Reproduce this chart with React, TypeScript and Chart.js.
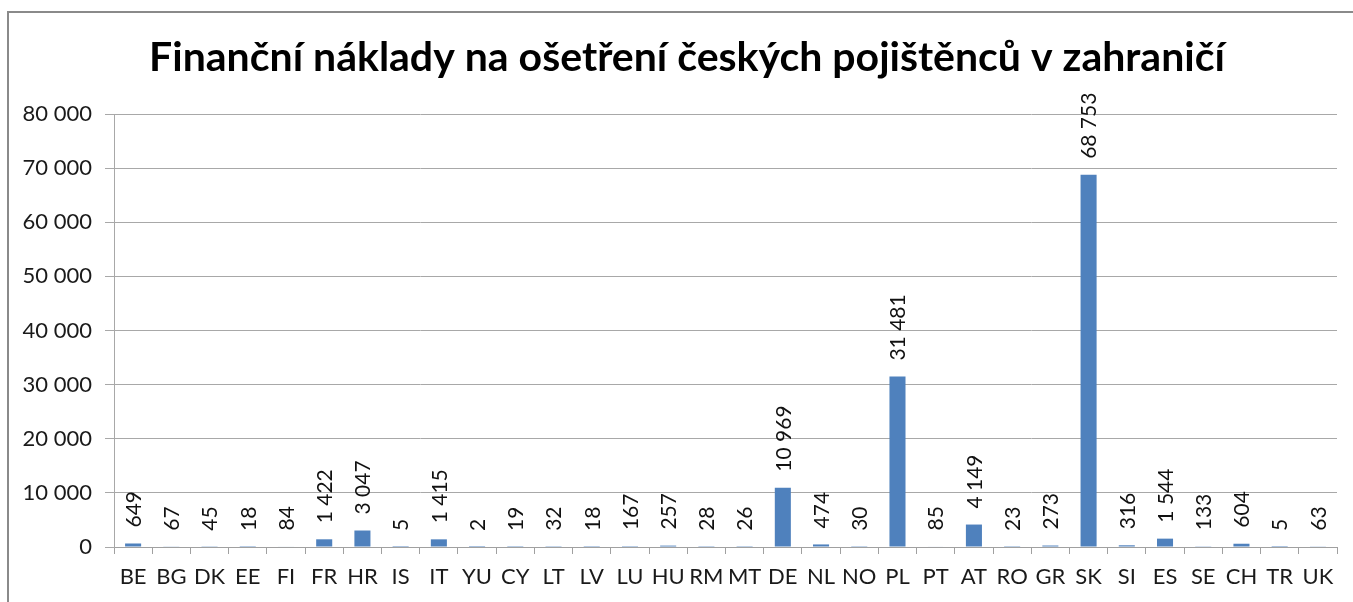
import React, { useEffect, useRef } from "react";
import { Chart, registerables } from "chart.js";

Chart.register(...registerables);

const TITLE = "Finanční náklady na ošetření českých pojištěnců v zahraničí";
const countries = ["BE","BG","DK","EE","FI","FR","HR","IS","IT","YU","CY","LT","LV","LU","HU","RM","MT","DE","NL","NO","PL","PT","AT","RO","GR","SK","SI","ES","SE","CH","TR","UK"];
const costs = [649,67,45,18,84,1422,3047,5,1415,2,19,32,18,167,257,28,26,10969,474,30,31481,85,4149,23,273,68753,316,1544,133,604,5,63];
const yTicks = [0,10000,20000,30000,40000,50000,60000,70000,80000];

const fmt = (n: number) => String(n).replace(/\B(?=(\d{3})+(?!\d))/g, " ");

const FONT = "Lato, 'Open Sans', sans-serif";

const valueLabels = {
  id: "valueLabels",
  afterDatasetsDraw(chart: any) {
    const ctx = chart.ctx;
    const meta = chart.getDatasetMeta(0);
    ctx.save();
    ctx.font = `21px ${FONT}`;
    ctx.fillStyle = "#111";
    ctx.textAlign = "left";
    ctx.textBaseline = "middle";
    meta.data.forEach((el: any, i: number) => {
      const v = chart.data.datasets[0].data[i];
      ctx.save();
      ctx.translate(el.x, el.y - 16);
      ctx.rotate(-Math.PI / 2);
      ctx.fillText(fmt(v), 0, 1);
      ctx.restore();
    });
    ctx.restore();
  },
};

const titlePlugin = {
  id: "ownTitle",
  afterDraw(chart: any) {
    const ctx = chart.ctx;
    ctx.save();
    ctx.font = `bold 41px ${FONT}`;
    ctx.fillStyle = "#000";
    ctx.textAlign = "center";
    ctx.textBaseline = "middle";
    ctx.fillText(TITLE, 687, 57.6);
    ctx.restore();
  },
};

export default function App() {
  const ref = useRef<HTMLCanvasElement>(null);
  useEffect(() => {
    if (!ref.current) return;
    const chart = new Chart(ref.current, {
      type: "bar",
      data: {
        labels: countries,
        datasets: [
          {
            data: costs,
            backgroundColor: "#4f81bd",
            barPercentage: 0.42,
            categoryPercentage: 1,
          },
        ],
      },
      options: {
        animation: false,
        responsive: false,
        layout: { padding: { top: 114, right: 16, bottom: 0, left: 0 } },
        plugins: {
          legend: { display: false },
          tooltip: { enabled: false },
          title: { display: false },
        },
        scales: {
          x: {
            grid: {
              display: true,
              drawOnChartArea: false,
              drawTicks: true,
              tickLength: 7,
              color: "#a0a0a0",
              offset: true,
            },
            border: { display: true, color: "#a0a0a0" },
            ticks: {
              color: "#1a1a1a",
              font: { family: FONT, size: 22 },
              padding: 10,
              maxRotation: 0,
              autoSkip: false,
            },
            afterFit(scale: any) {
              scale.height = 55;
            },
          },
          y: {
            min: 0,
            max: 80000,
            afterBuildTicks(scale: any) {
              scale.ticks = yTicks.map((v) => ({ value: v }));
            },
            grid: {
              color: "#a8a8a8",
              drawTicks: true,
              tickLength: 9,
            },
            border: { display: true, color: "#a8a8a8" },
            ticks: {
              color: "#1a1a1a",
              font: { family: FONT, size: 22 },
              padding: 13,
              callback: (v: any) => fmt(Number(v)),
            },
            afterFit(scale: any) {
              scale.width = 114;
            },
          },
        },
      },
      plugins: [valueLabels, titlePlugin],
    });
    return () => chart.destroy();
  }, []);
  return (
    <div style={{ position: "fixed", left: 0, top: 0, width: 1353, height: 602, overflow: "hidden", background: "#fff" }}>
      <div
        style={{
          position: "absolute",
          left: 7,
          top: 11,
          width: 1400,
          height: 700,
          border: "2px solid #8a8a8a",
          boxSizing: "border-box",
        }}
      />
      <canvas ref={ref} width={1353} height={602} style={{ position: "absolute", left: 0, top: 0 }} />
    </div>
  );
}
